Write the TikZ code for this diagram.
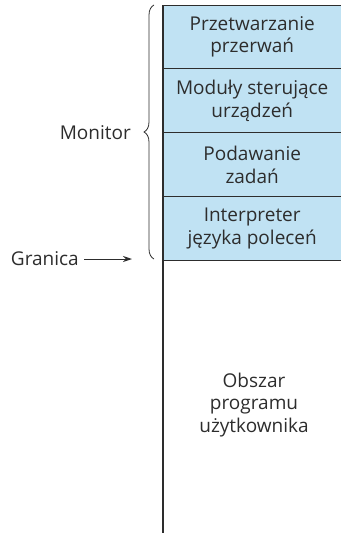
\documentclass[tikz,border=0pt]{standalone}
\usepackage{fontspec}
\setmainfont{Open Sans}
\usetikzlibrary{positioning,arrows.meta,decorations.pathreplacing}
\definecolor{warstwa}{RGB}{192,226,243}
\definecolor{linia}{RGB}{45,45,45}

\begin{document}
\begin{tikzpicture}[x=1pt, y=1pt,
    layer/.style ={fill=warstwa, minimum width=178pt, minimum height=63.5pt,
      inner sep=0pt, align=center, text=linia},
    label/.style ={text=linia, inner sep=4pt},
    font=\fontsize{19}{22.5}\selectfont]
   \useasboundingbox (0,0) rectangle (341,-533);

   \node[layer, anchor=north west] (przerwania) at (163,-5) {Przetwarzanie\\przerwań};
   \node[layer, below=0pt of przerwania] (moduly) {Moduły sterujące\\urządzeń};
   \node[layer, below=0pt of moduly] (zadania) {Podawanie\\zadań};
   \node[layer, below=0pt of zadania] (interpreter) {Interpreter\\języka poleceń};

   \node[label, align=center] (obszar) at (254,-405) {Obszar\\programu\\użytkownika};
   \node[label, anchor=east] (monitor) at (135,-133) {Monitor};
   \node[label, anchor=east, inner sep=5pt] (granica) at (84,-259) {Granica};

   \coordinate (dol) at (163,-533);
   \coordinate (granicaPkt) at (132,-259);
   \coordinate (klamraGora) at (154,-5);
   \coordinate (klamraDol) at (154,-259);

   \draw[linia, line width=1.2pt] (przerwania.north west) to (dol);
   \draw[linia, line width=1pt] (przerwania.north west) to (przerwania.north east);
   \draw[linia, line width=1pt] (przerwania.south west) to (przerwania.south east);
   \draw[linia, line width=1pt] (moduly.south west) to (moduly.south east);
   \draw[linia, line width=1pt] (zadania.south west) to (zadania.south east);
   \draw[linia, line width=1pt] (interpreter.south west) to (interpreter.south east);

   \draw[linia, line width=0.8pt, decorate, decoration={brace, amplitude=10pt}]
     (klamraDol) to (klamraGora);
   \draw[linia, line width=1pt, -{Stealth[length=9pt, width=6pt]}] (granica) to (granicaPkt);

 \end{tikzpicture}
\end{document}
